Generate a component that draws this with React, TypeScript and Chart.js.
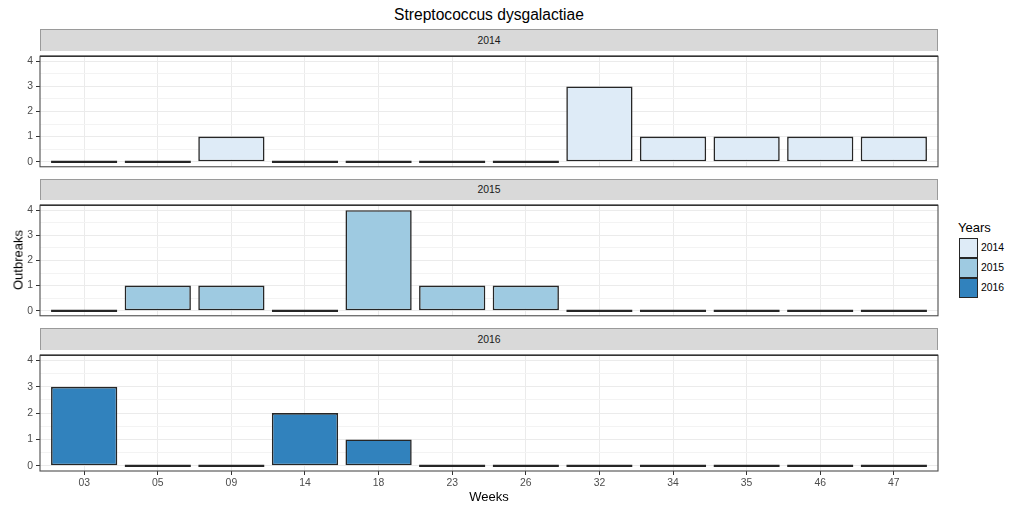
import React, { useEffect, useRef } from "react";
import { Chart, registerables } from "chart.js";

Chart.register(...registerables);

const weeks = ["03", "05", "09", "14", "18", "23", "26", "32", "34", "35", "46", "47"];
const years = ["2014", "2015", "2016"];
const outbreaks2014 = [0, 0, 1, 0, 0, 0, 0, 3, 1, 1, 1, 1];
const outbreaks2015 = [0, 1, 1, 0, 4, 1, 1, 0, 0, 0, 0, 0];
const outbreaks2016 = [3, 0, 0, 2, 1, 0, 0, 0, 0, 0, 0, 0];
const yearColors = ["#deebf7", "#9ecae1", "#3182bd"];
const seriesByYear = [outbreaks2014, outbreaks2015, outbreaks2016];
const yMajorTicks = [0, 1, 2, 3, 4];

const FONT = "'Liberation Sans', Arial, Helvetica, sans-serif";
const PANEL_LEFT = 40;
const PANEL_RIGHT = 938;
const CANVAS_W = 945;
const PLOT_H = 121;
const STRIP_H = 21.5;
const FIRST_STRIP_TOP = 29;
const PANEL_STEP = 149.5;
const X_AXIS_H = 26;

const borderPlugin = {
  id: "panelBorder",
  afterDatasetsDraw(chart: any) {
    const { ctx, chartArea } = chart;
    ctx.save();
    ctx.strokeStyle = "#4d4d4d";
    ctx.lineWidth = 1.1;
    ctx.strokeRect(chartArea.left, chartArea.top, chartArea.right - chartArea.left, chartArea.bottom - chartArea.top);
    ctx.beginPath();
    ctx.strokeStyle = "#333333";
    ctx.lineWidth = 1.6;
    ctx.moveTo(chartArea.left, chartArea.top);
    ctx.lineTo(chartArea.right, chartArea.top);
    ctx.stroke();
    ctx.restore();
  },
};

function Panel({ values, color, showX, plotTop }: { values: number[]; color: string; showX: boolean; plotTop: number }) {
  const ref = useRef<HTMLCanvasElement | null>(null);
  const height = 4 + PLOT_H + (showX ? X_AXIS_H : 4);
  useEffect(() => {
    if (!ref.current) return;
    const chart = new Chart(ref.current, {
      type: "bar",
      data: {
        datasets: [
          {
            data: values.map((v, i) => ({ x: i, y: v })),
            backgroundColor: color,
            borderColor: "#262626",
            borderWidth: 1.6,
            borderSkipped: false,
            minBarLength: 2.6,
            barPercentage: 0.9,
            categoryPercentage: 1,
          } as any,
        ],
      },
      options: {
        animation: false,
        responsive: false,
        maintainAspectRatio: false,
        layout: { padding: { top: 4, right: CANVAS_W - PANEL_RIGHT, bottom: showX ? 0 : 4, left: 0 } },
        plugins: { legend: { display: false }, tooltip: { enabled: false }, title: { display: false } },
        scales: {
          x: {
            type: "linear",
            offset: false,
            min: -0.6,
            max: weeks.length - 1 + 0.6,
            afterBuildTicks: (s: any) => {
              s.ticks = weeks.map((_, i) => ({ value: i }));
            },
            afterFit: (s: any) => {
              s.height = showX ? X_AXIS_H : 0;
            },
            ticks: {
              display: showX,
              autoSkip: false,
              maxRotation: 0,
              padding: 2,
              color: "#4d4d4d",
              font: { family: FONT, size: 10.4 },
              callback: (v: any) => weeks[Math.round(Number(v))] ?? "",
            },
            grid: { offset: false, color: "#ebebeb", lineWidth: 1, drawTicks: showX, tickLength: 4, tickColor: "#333333" },
            border: { display: false },
          } as any,
          y: {
            type: "linear",
            min: -0.2,
            max: 4.2,
            afterBuildTicks: (s: any) => {
              const t: any[] = [];
              for (let v = 0; v <= 4; v += 0.5) t.push({ value: v });
              s.ticks = t;
            },
            afterFit: (s: any) => {
              s.width = PANEL_LEFT;
            },
            ticks: {
              autoSkip: false,
              padding: 3,
              color: "#4d4d4d",
              font: { family: FONT, size: 10.4 },
              callback: (v: any) => (yMajorTicks.includes(Number(v)) ? String(v) : ""),
            },
            grid: {
              color: (ctx: any) => (yMajorTicks.includes(ctx.tick?.value) ? "#ebebeb" : "#f3f3f3"),
              tickColor: (ctx: any) => (yMajorTicks.includes(ctx.tick?.value) ? "#333333" : "rgba(0,0,0,0)"),
              lineWidth: 1,
              drawTicks: true,
              tickLength: 4,
            },
            border: { display: false },
          } as any,
        },
      },
      plugins: [borderPlugin],
    });
    return () => chart.destroy();
  }, [values, color, showX]);
  return (
    <canvas
      ref={ref}
      width={CANVAS_W}
      height={height}
      style={{ position: "absolute", left: 0, top: plotTop - 4, width: CANVAS_W, height, display: "block" }}
    />
  );
}

export default function App() {
  const center = (PANEL_LEFT + PANEL_RIGHT) / 2;
  return (
    <div style={{ position: "absolute", left: 0, top: 0, width: 1010, height: 509, background: "#fff", fontFamily: FONT, overflow: "hidden" }}>
      <div style={{ position: "absolute", left: center, top: 15, transform: "translate(-50%,-50%)", fontSize: 15.6, color: "#000", whiteSpace: "nowrap" }}>
        Streptococcus dysgalactiae
      </div>
      {years.map((yr, i) => {
        const stripTop = FIRST_STRIP_TOP + i * PANEL_STEP;
        const plotTop = stripTop + STRIP_H;
        return (
          <React.Fragment key={yr}>
            <div
              style={{
                position: "absolute",
                left: PANEL_LEFT,
                top: stripTop,
                width: PANEL_RIGHT - PANEL_LEFT,
                height: STRIP_H,
                boxSizing: "border-box",
                background: "#d9d9d9",
                border: "1px solid #9a9a9a",
                borderBottom: "none",
                fontSize: 10.4,
                color: "#1a1a1a",
                display: "flex",
                alignItems: "center",
                justifyContent: "center",
              }}
            >
              {yr}
            </div>
            <Panel values={seriesByYear[i]} color={yearColors[i]} showX={i === years.length - 1} plotTop={plotTop} />
          </React.Fragment>
        );
      })}
      <div style={{ position: "absolute", left: 18, top: 260, transform: "translate(-50%,-50%) rotate(-90deg)", fontSize: 13, color: "#000", whiteSpace: "nowrap" }}>
        Outbreaks
      </div>
      <div style={{ position: "absolute", left: center, top: 496, transform: "translate(-50%,-50%)", fontSize: 13, color: "#000", whiteSpace: "nowrap" }}>
        Weeks
      </div>
      <div style={{ position: "absolute", left: 958, top: 221, fontSize: 13, lineHeight: "14px", color: "#000" }}>Years</div>
      {years.map((yr, i) => (
        <React.Fragment key={"lg" + yr}>
          <div
            style={{
              position: "absolute",
              left: 959,
              top: 238 + i * 20,
              width: 19,
              height: 20,
              boxSizing: "border-box",
              background: yearColors[i],
              border: "1.4px solid #262626",
            }}
          />
          <div style={{ position: "absolute", left: 981, top: 238 + i * 20, height: 20, lineHeight: "20px", fontSize: 10.4, color: "#000" }}>{yr}</div>
        </React.Fragment>
      ))}
    </div>
  );
}
